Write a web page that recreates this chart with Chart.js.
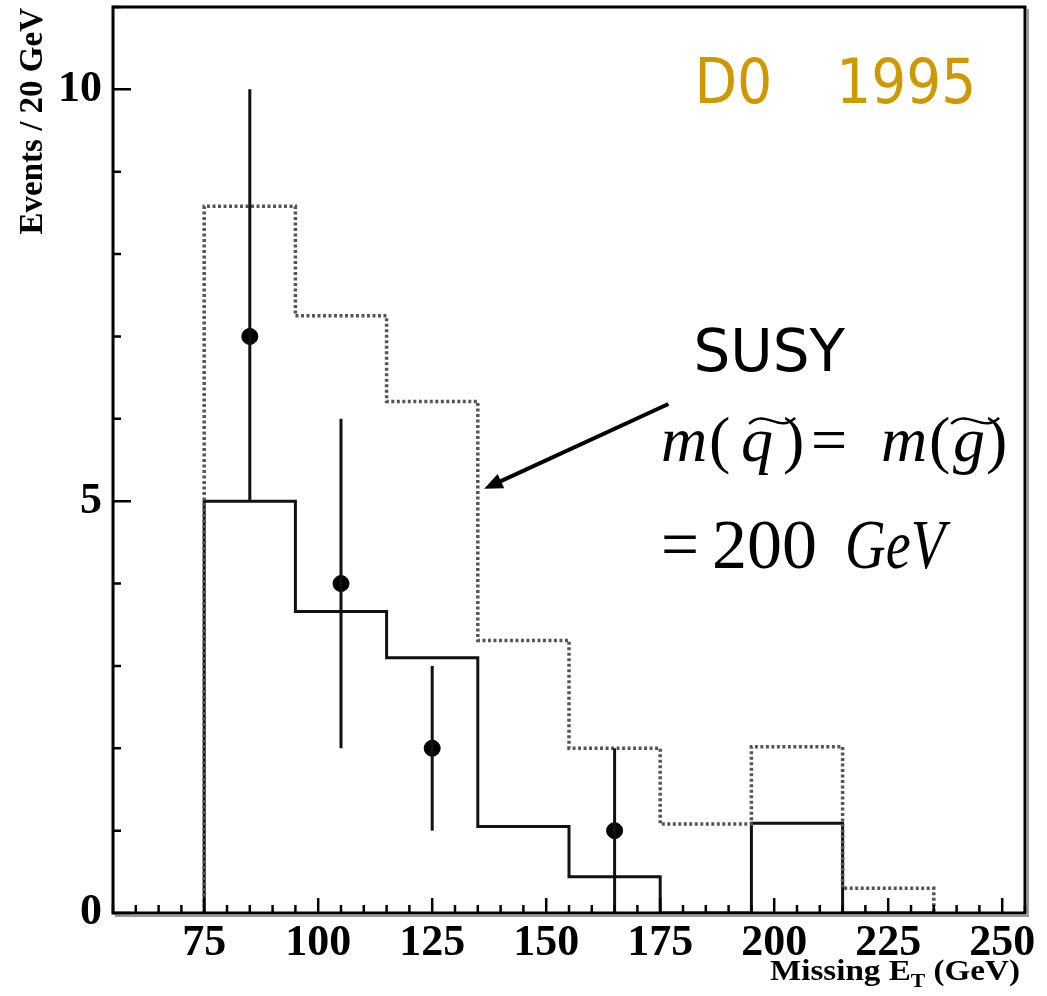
<!DOCTYPE html>
<html>
<head>
<meta charset="utf-8">
<script src="https://cdn.jsdelivr.net/npm/chart.js@4.4.1/dist/chart.umd.min.js"></script>
<style>
  html, body { margin: 0; padding: 0; background: #fff; }
  #wrap { width: 1047px; height: 996px; position: relative; }
</style>
</head>
<body>
<div id="wrap"><canvas id="metChart"></canvas></div>
<script>
// Missing ET distribution, D0 1995
const binEdges = [75, 95, 115, 135, 155, 175, 195, 215, 235];
const bkgCounts = [5.0, 3.66, 3.10, 1.05, 0.44, 0, 1.09, 0];      // solid histogram
const susyCounts = [8.58, 7.25, 6.21, 3.31, 2.0, 1.08, 2.02, 0.30]; // dotted histogram
const dataX = [85, 105, 125, 165];
const dataY = [7, 4, 2, 1];
const errLow = [5, 2, 1, 0];
const errHigh = [10, 6, 3, 2];
const xTicks = [75, 100, 125, 150, 175, 200, 225, 250];
const yTicks = [0, 5, 10];

// histogram outline as step points (stepped: 'before' holds each bin value to the next edge)
function stepPoints(counts) {
    const pts = [{ x: binEdges[0], y: 0 }];
    counts.forEach((c, i) => pts.push({ x: binEdges[i], y: c }));
    pts.push({ x: binEdges[binEdges.length - 1], y: 0 });
    return pts;
}

const serifBold = { family: "'Liberation Serif', 'DejaVu Serif', serif", size: 44, weight: 'bold' };

const decor = {
    id: 'decor',
    afterDatasetsDraw(chart) {
        const { ctx, chartArea: a, scales: { x, y } } = chart;
        ctx.save();

        // error bars
        ctx.strokeStyle = '#111';
        ctx.lineWidth = 3;
        dataX.forEach((v, i) => {
            const px = x.getPixelForValue(v);
            ctx.beginPath();
            ctx.moveTo(px, y.getPixelForValue(errLow[i]));
            ctx.lineTo(px, y.getPixelForValue(errHigh[i]));
            ctx.stroke();
        });

        // frame + light shadow
        ctx.strokeStyle = '#999';
        ctx.lineWidth = 2;
        ctx.beginPath();
        ctx.moveTo(a.right + 3, a.top + 2);
        ctx.lineTo(a.right + 3, a.bottom + 3);
        ctx.lineTo(a.left + 2, a.bottom + 3);
        ctx.stroke();
        ctx.strokeStyle = '#000';
        ctx.lineWidth = 3;
        ctx.strokeRect(a.left, a.top, a.right - a.left, a.bottom - a.top);

        // inward tick marks
        ctx.lineWidth = 2.5;
        ctx.beginPath();
        for (let v = Math.ceil(x.min / 5) * 5; v <= x.max; v += 5) {
            const px = x.getPixelForValue(v);
            const len = v % 25 === 0 ? 15 : 8;
            ctx.moveTo(px, a.bottom);
            ctx.lineTo(px, a.bottom - len);
        }
        for (let v = Math.ceil(y.min); v <= y.max; v += 1) {
            const py = y.getPixelForValue(v);
            const len = v % 5 === 0 ? 18 : 8;
            ctx.moveTo(a.left, py);
            ctx.lineTo(a.left + len, py);
        }
        ctx.stroke();

        // arrow pointing at the SUSY histogram
        const tx = x.getPixelForValue(136.4), ty = y.getPixelForValue(5.15);
        const sx = x.getPixelForValue(176.8), sy = y.getPixelForValue(6.18);
        const ang = Math.atan2(ty - sy, tx - sx);
        ctx.lineWidth = 4;
        ctx.beginPath();
        ctx.moveTo(sx, sy);
        ctx.lineTo(tx - 10 * Math.cos(ang), ty - 10 * Math.sin(ang));
        ctx.stroke();
        ctx.fillStyle = '#000';
        ctx.beginPath();
        ctx.moveTo(tx, ty);
        ctx.lineTo(tx - 20 * Math.cos(ang - 0.4), ty - 20 * Math.sin(ang - 0.4));
        ctx.lineTo(tx - 20 * Math.cos(ang + 0.4), ty - 20 * Math.sin(ang + 0.4));
        ctx.closePath();
        ctx.fill();

        // "D0   1995"
        ctx.fillStyle = '#cc9900';
        ctx.font = "62px 'DejaVu Sans', sans-serif";
        ctx.textBaseline = 'alphabetic';
        ctx.textAlign = 'left';
        ctx.fillText('D0', x.getPixelForValue(182.5), y.getPixelForValue(9.83), 78);
        ctx.fillText('1995', x.getPixelForValue(213.6), y.getPixelForValue(9.83), 140);

        // "SUSY"
        ctx.fillStyle = '#000';
        ctx.font = "58px 'DejaVu Sans', sans-serif";
        ctx.fillText('SUSY', x.getPixelForValue(182.3), y.getPixelForValue(6.58), 168);

        // m(q~) = m(g~)
        const fx = x.getPixelForValue(175.2), fy = y.getPixelForValue(5.49);
        const it = "italic 64px 'Liberation Serif', serif";
        const up = "64px 'Liberation Serif', serif";
        const pieces = [
            ['m', 0, it], ['(', 48, up], ['q', 80, it], [')', 122, up],
            ['=', 150, up], ['m', 220, it], ['(', 268, up], ['g', 292, it], [')', 325, up]
        ];
        pieces.forEach(([t, dx, f]) => { ctx.font = f; ctx.fillText(t, fx + dx, fy); });
        ctx.lineWidth = 2.5;
        [[88, 134], [290, 338]].forEach(([x0, x1]) => {
            const ty0 = fy - 40;
            const w = x1 - x0;
            ctx.beginPath();
            ctx.moveTo(fx + x0, ty0 + 3);
            ctx.bezierCurveTo(fx + x0 + w * 0.35, ty0 - 13, fx + x0 + w * 0.65, ty0 + 13, fx + x1, ty0 - 3);
            ctx.stroke();
        });

        // = 200 GeV
        const gx = x.getPixelForValue(175.2), gy = y.getPixelForValue(4.19);
        ctx.font = "70px 'Liberation Serif', serif";
        ctx.fillText('=', gx, gy, 38);
        ctx.fillText('200', gx + 51, gy, 114);
        ctx.font = "italic 70px 'Liberation Serif', serif";
        ctx.fillText('GeV', gx + 184, gy, 100);

        ctx.restore();
    },
    afterDraw(chart) {
        const { ctx } = chart;
        ctx.save();
        ctx.fillStyle = '#000';
        // y-axis title, aligned to the top
        ctx.font = "bold 33px 'Liberation Serif', serif";
        ctx.translate(42, 8);
        ctx.rotate(-Math.PI / 2);
        ctx.textAlign = 'right';
        ctx.textBaseline = 'alphabetic';
        ctx.fillText('Events / 20 GeV', 0, 0);
        ctx.restore();

        // x-axis title with subscript T
        ctx.save();
        ctx.fillStyle = '#000';
        ctx.textBaseline = 'alphabetic';
        ctx.textAlign = 'left';
        const big = "bold 29px 'Liberation Serif', serif";
        const small = "bold 19px 'Liberation Serif', serif";
        ctx.font = big;
        const w1 = ctx.measureText('Missing E').width;
        const w3 = ctx.measureText(' (GeV)').width;
        ctx.font = small;
        const w2 = ctx.measureText('T').width;
        const sc = 250 / (w1 + w2 + w3);
        ctx.translate(1020 - 250, 980);
        ctx.scale(sc, 1);
        ctx.font = big;
        ctx.fillText('Missing E', 0, 0);
        ctx.font = small;
        ctx.fillText('T', w1, 7);
        ctx.font = big;
        ctx.fillText(' (GeV)', w1 + w2, 0);
        ctx.restore();
    }
};

new Chart(document.getElementById('metChart'), {
    type: 'line',
    data: {
        datasets: [
            {
                label: 'SUSY',
                data: stepPoints(susyCounts),
                stepped: 'before',
                borderColor: '#555',
                borderWidth: 3.5,
                borderDash: [3, 2.5],
                pointRadius: 0,
                fill: false
            },
            {
                label: 'Background',
                data: stepPoints(bkgCounts),
                stepped: 'before',
                borderColor: '#111',
                borderWidth: 3,
                pointRadius: 0,
                fill: false
            },
            {
                type: 'scatter',
                label: 'Data',
                data: dataX.map((v, i) => ({ x: v, y: dataY[i] })),
                pointRadius: 8,
                pointBackgroundColor: '#000',
                pointBorderColor: '#000',
                showLine: false
            }
        ]
    },
    options: {
        responsive: true,
        maintainAspectRatio: false,
        animation: false,
        layout: { autoPadding: false, padding: { top: 7, right: 22, left: 0, bottom: 0 } },
        plugins: {
            legend: { display: false },
            tooltip: { enabled: false }
        },
        scales: {
            x: {
                type: 'linear',
                min: 55,
                max: 255,
                afterBuildTicks: s => { s.ticks = xTicks.map(v => ({ value: v })); },
                afterFit: s => { s.height = 83; s.paddingLeft = 0; s.paddingRight = 0; },
                grid: { display: false, drawTicks: false },
                border: { display: false },
                ticks: { font: serifBold, color: '#000', padding: 4, maxRotation: 0, autoSkip: false }
            },
            y: {
                type: 'linear',
                min: 0,
                max: 11,
                afterBuildTicks: s => { s.ticks = yTicks.map(v => ({ value: v })); },
                afterFit: s => { s.width = 113; s.paddingTop = 0; s.paddingBottom = 0; },
                grid: { display: false, drawTicks: false },
                border: { display: false },
                ticks: { font: serifBold, color: '#000', padding: 11, autoSkip: false }
            }
        }
    },
    plugins: [decor]
});
</script>
</body>
</html>
